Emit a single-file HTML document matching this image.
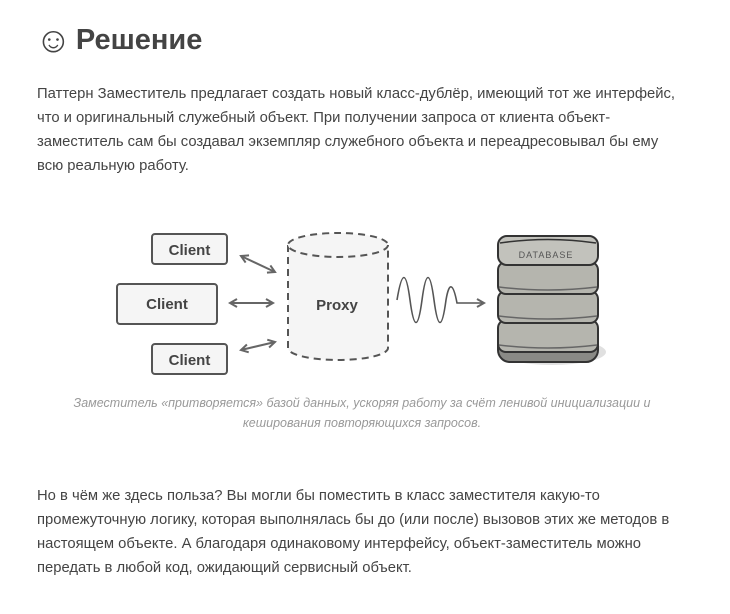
<!DOCTYPE html>
<html><head><meta charset="utf-8"><style>
body{margin:0;background:#fff;width:730px;height:614px;overflow:hidden;font-family:"Liberation Sans","DejaVu Sans",sans-serif;color:#444}
h2{position:absolute;left:37px;top:20px;margin:0;font-size:29px;font-weight:bold;color:#444;line-height:40px}
h2 span{font-size:36px;font-weight:normal;vertical-align:-3px;margin-right:-4px;margin-left:-2px}
p{position:absolute;left:37px;margin:0;font-size:14.8px;line-height:24px;width:650px}
.cap{position:absolute;left:40px;width:644px;text-align:center;top:393px;font-style:italic;color:#999;font-size:12.5px;line-height:20px}
svg{position:absolute;left:0;top:0}
</style></head><body>
<h2><span>☺</span> Решение</h2>
<p style="top:82px">Паттерн Заместитель предлагает создать новый класс-дублёр, имеющий тот же интерфейс, что и оригинальный служебный объект. При получении запроса от клиента объект-заместитель сам бы создавал экземпляр служебного объекта и переадресовывал бы ему всю реальную работу.</p>
<svg width="730" height="614" font-family="Liberation Sans, sans-serif">
<defs><marker id="a" markerWidth="10" markerHeight="10" refX="8" refY="5" orient="auto-start-reverse" markerUnits="userSpaceOnUse"><path d="M1,1 L8,5 L1,9" fill="none" stroke="#666" stroke-width="2"/></marker></defs>
<g stroke="#555" stroke-width="2" fill="#f5f5f5">
<rect x="152" y="234" width="75" height="30" rx="3"/>
<rect x="117" y="284" width="100" height="40" rx="3"/>
<rect x="152" y="344" width="75" height="30" rx="3"/>
</g>
<g font-weight="bold" font-size="15" fill="#444" text-anchor="middle">
<text x="189.5" y="255">Client</text><text x="167" y="309">Client</text><text x="189.5" y="365">Client</text>
</g>
<path d="M288,245 V348 A50,12 0 0 0 388,348 V245" fill="#f5f5f5" stroke="#555" stroke-width="2" stroke-dasharray="7,5"/>
<ellipse cx="338" cy="245" rx="50" ry="12" fill="#f5f5f5" stroke="#555" stroke-width="2" stroke-dasharray="7,5"/>
<text x="337" y="310" font-weight="bold" font-size="15" fill="#444" text-anchor="middle">Proxy</text>
<g stroke="#666" stroke-width="2" fill="none" marker-start="url(#a)" marker-end="url(#a)">
<path d="M241,256 L275,272"/><path d="M230,303 L273,303"/><path d="M241,350 L275,342"/>
</g>
<path d="M397,300 C402,270 406,270 410,300 C414,330 418,330 422,300 C426,270 430,270 434,300 C438,330 442,330 446,300 C449,282 453,282 457,303 L484,303" fill="none" stroke="#555" stroke-width="1.6" marker-end="url(#a)"/>
<g stroke="#333" stroke-width="2">
<ellipse cx="552" cy="352" rx="54" ry="13" fill="#e0e0e0" stroke="none"/>
<rect x="498" y="322" width="100" height="40" rx="12" fill="#8a8a86"/>
<rect x="498" y="320" width="100" height="32" rx="8" fill="#b5b5ae"/>
<rect x="498" y="291" width="100" height="32" rx="8" fill="#b5b5ae"/>
<rect x="498" y="262" width="100" height="32" rx="8" fill="#b5b5ae"/>
<rect x="498" y="236" width="100" height="29" rx="9" fill="#c2c2bc"/>
<path d="M500,243 Q548,236 596,243" fill="none" stroke-width="1.5"/>
<path d="M499,287 Q548,293 597,287 M499,316 Q548,322 597,316 M499,345 Q548,351 597,345" fill="none" stroke-width="1.5" stroke="#666"/>
</g>
<text x="546" y="258" font-size="9" fill="#555" text-anchor="middle" letter-spacing="1">DATABASE</text>
</svg>
<div class="cap">Заместитель «притворяется» базой данных, ускоряя работу за счёт ленивой инициализации и кеширования повторяющихся запросов.</div>
<p style="top:484px">Но в чём же здесь польза? Вы могли бы поместить в класс заместителя какую-то промежуточную логику, которая выполнялась бы до (или после) вызовов этих же методов в настоящем объекте. А благодаря одинаковому интерфейсу, объект-заместитель можно передать в любой код, ожидающий сервисный объект.</p>
</body></html>
